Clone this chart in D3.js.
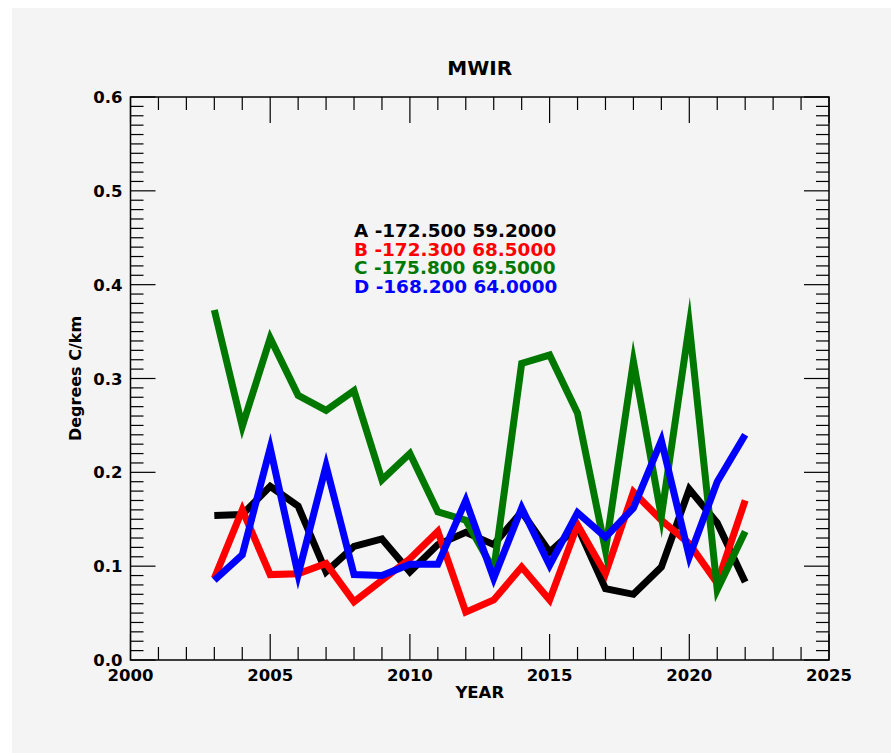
<!DOCTYPE html>
<html>
<head>
<meta charset="utf-8">
<script src="https://cdn.jsdelivr.net/npm/d3@7"></script>
<style>
  html, body { margin: 0; padding: 0; background: #ffffff; }
  svg { display: block; }
  text { font-family: "DejaVu Sans", sans-serif; font-weight: bold; }
</style>
</head>
<body>
<svg id="chart" width="891" height="753"></svg>
<script>
// years on the x axis
const years = d3.range(2003, 2023);

// one series per station
const seriesA = [0.154, 0.155, 0.185, 0.164, 0.094, 0.121, 0.129, 0.094, 0.123, 0.136,
                 0.123, 0.158, 0.115, 0.142, 0.076, 0.070, 0.099, 0.182, 0.146, 0.083];
const seriesB = [0.087, 0.160, 0.091, 0.092, 0.103, 0.062, 0.085, 0.108, 0.137, 0.051,
                 0.064, 0.099, 0.064, 0.144, 0.092, 0.179, 0.149, 0.124, 0.082, 0.170];
const seriesC = [0.373, 0.249, 0.343, 0.282, 0.266, 0.287, 0.192, 0.220, 0.158, 0.149,
                 0.096, 0.316, 0.325, 0.263, 0.117, 0.318, 0.153, 0.357, 0.075, 0.137];
const seriesD = [0.085, 0.112, 0.226, 0.091, 0.207, 0.091, 0.090, 0.102, 0.102, 0.170,
                 0.087, 0.162, 0.101, 0.157, 0.131, 0.162, 0.234, 0.110, 0.190, 0.240];

const seriesNames = ["A", "B", "C", "D"];
const seriesLabels = ["A -172.500 59.2000", "B -172.300 68.5000",
                      "C -175.800 69.5000", "D -168.200 64.0000"];
const seriesColors = ["#000000", "#ff0000", "#007800", "#0000ff"];

const xTicks = [2000, 2005, 2010, 2015, 2020, 2025];
const yTicks = [0.0, 0.1, 0.2, 0.3, 0.4, 0.5, 0.6];

const margin = {top: 97, right: 62, bottom: 93, left: 130.5};
const width = 829 - margin.left;
const height = 660 - margin.top;

const svg = d3.select("#chart");

// gray panel
svg.append("rect")
  .attr("x", 12).attr("y", 8)
  .attr("width", 891 - 12).attr("height", 753 - 8)
  .attr("fill", "#f4f4f4");

const g = svg.append("g")
  .attr("transform", "translate(" + margin.left + "," + margin.top + ")");

const xScale = d3.scaleLinear().domain([2000, 2025]).range([0, width]);
const yScale = d3.scaleLinear().domain([0, 0.6]).range([height, 0]);

// ticks, drawn inward on all four sides
const xMinor = d3.range(2000, 2026, 1);
const yMinor = d3.range(0, 61, 1).map(d => d / 100);

function isMajorX(v) { return v % 5 === 0; }
function isMajorY(v) { return Math.round(v * 100) % 10 === 0; }

const tickG = g.append("g").attr("stroke", "#000").attr("stroke-width", 1.2);

xMinor.forEach(v => {
  const len = isMajorX(v) ? 26 : 13;
  const x = xScale(v);
  tickG.append("line").attr("x1", x).attr("x2", x).attr("y1", height).attr("y2", height - len);
  tickG.append("line").attr("x1", x).attr("x2", x).attr("y1", 0).attr("y2", len);
});
yMinor.forEach(v => {
  const len = isMajorY(v) ? 25 : 13;
  const y = yScale(v);
  tickG.append("line").attr("x1", 0).attr("x2", len).attr("y1", y).attr("y2", y);
  tickG.append("line").attr("x1", width).attr("x2", width - len).attr("y1", y).attr("y2", y);
});

// frame
g.append("rect")
  .attr("width", width).attr("height", height)
  .attr("fill", "none").attr("stroke", "#000").attr("stroke-width", 1.5);

// tick labels
g.selectAll(".xlab").data(xTicks).enter().append("text")
  .attr("class", "xlab")
  .attr("x", d => xScale(d))
  .attr("y", height + 21)
  .attr("text-anchor", "middle")
  .attr("font-size", "16.5px")
  .attr("fill", "#000")
  .text(d => d);

g.selectAll(".ylab").data(yTicks).enter().append("text")
  .attr("class", "ylab")
  .attr("x", -8)
  .attr("y", d => yScale(d) + 6)
  .attr("text-anchor", "end")
  .attr("font-size", "16.5px")
  .attr("fill", "#000")
  .text(d => d.toFixed(1));

// axis titles
g.append("text")
  .attr("x", width / 2).attr("y", height + 38)
  .attr("text-anchor", "middle")
  .attr("font-size", "16.5px")
  .text("YEAR");

g.append("text")
  .attr("transform", "translate(-50," + (height / 2) + ") rotate(-90)")
  .attr("text-anchor", "middle")
  .attr("font-size", "16px")
  .text("Degrees C/km");

svg.append("text")
  .attr("x", margin.left + width / 2).attr("y", 75)
  .attr("text-anchor", "middle")
  .attr("font-size", "20px")
  .text("MWIR");

// lines
const line = d3.line()
  .x((d, i) => xScale(years[i]))
  .y(d => yScale(d));

[seriesA, seriesB, seriesC, seriesD].forEach((s, i) => {
  g.append("path")
    .datum(s)
    .attr("class", "line " + seriesNames[i])
    .attr("d", line)
    .attr("fill", "none")
    .attr("stroke", seriesColors[i])
    .attr("stroke-width", 7)
    .attr("stroke-linejoin", "miter")
    .attr("stroke-miterlimit", 10);
});

// station legend
seriesLabels.forEach((t, i) => {
  svg.append("text")
    .attr("x", 354)
    .attr("y", 237 + i * 18.7)
    .attr("font-size", "18.4px")
    .attr("fill", seriesColors[i])
    .text(t);
});
</script>
</body>
</html>
